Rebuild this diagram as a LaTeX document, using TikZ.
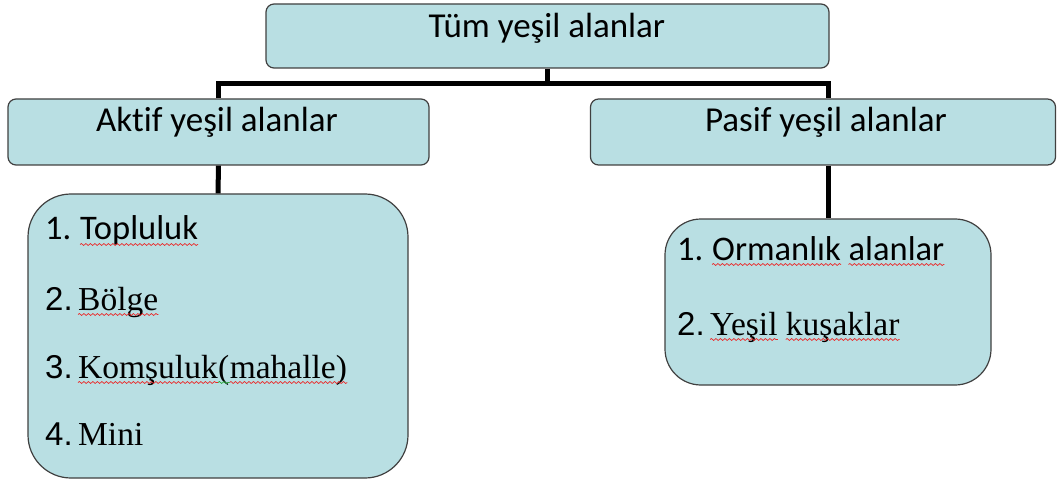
\documentclass[tikz,border=0pt]{standalone}
\usepackage{fontspec}
\usetikzlibrary{decorations.pathmorphing}
\setmainfont{Liberation Serif}
\newfontfamily\calfont[Ligatures={NoCommon,NoRare},Contextuals=NoAlternate]{Carlito}
\newfontfamily\numfont{Liberation Sans}
\definecolor{boxfill}{RGB}{185,223,227}
\definecolor{boxline}{RGB}{64,64,64}
\definecolor{spellred}{RGB}{235,40,40}
\definecolor{spellgreen}{RGB}{40,170,60}
\begin{document}
\begin{tikzpicture}[x=1pt,y=-1pt,
  headbox/.style={draw=boxline,line width=1.2pt,fill=boxfill,rounded corners=8pt,inner sep=0pt},
  listbox/.style={draw=boxline,line width=1.2pt,fill=boxfill,inner sep=0pt},
  headtext/.style={anchor=base,inner sep=0pt,font=\calfont\fontsize{35}{35}\selectfont},
  itemtext/.style={anchor=base west,inner sep=0pt,font=\fontsize{33.5}{33.5}\selectfont},
  caltext/.style={anchor=base west,inner sep=0pt,font=\calfont\fontsize{34.5}{34.5}\selectfont},
  numtext/.style={anchor=base west,inner sep=0pt,font=\numfont\fontsize{33}{33}\selectfont},
  link/.style={line width=5pt,black},
  wave/.style={draw=#1,line width=0.7pt,decorate,
    decoration={snake,amplitude=1pt,segment length=4.5pt}},
  wave/.default=spellred]
\useasboundingbox (0,0) rectangle (1057,481);

% boxes
\node[headbox,minimum width=563pt,minimum height=64pt] (top) at (547.5,36) {};
\node[headbox,minimum width=421pt,minimum height=66pt] (left) at (218.5,132) {};
\node[headbox,minimum width=465pt,minimum height=66pt] (right) at (823,132) {};
\node[listbox,rounded corners=43pt,minimum width=380pt,minimum height=284pt] (bl) at (218,336) {};
\node[listbox,rounded corners=36pt,minimum width=326pt,minimum height=166pt] (br) at (828,302) {};

% connectors
\coordinate (bus) at (547.5,84);
\draw[link] (top.south) -- (bus);
\draw[link] (left.north) |- (bus);
\draw[link] (bus) -| (br.north |- right.north);
\draw[link] (left.south) -- (bl.north);
\draw[link] (right.south -| br.north) -- (br.north);

% header texts
\node[headtext] (ttop) at (547,38) {Tüm yeşil alanlar};
\node[headtext] (tleft) at (217,132) {Aktif yeşil alanlar};
\node[headtext] (tright) at (826,132) {Pasif yeşil alanlar};

% list on the left
\node[caltext] (n1) at (45,240) {1.};
\node[caltext] (w1) at (80,240) {Topluluk};
\node[numtext] (n2) at (45,310) {2.};
\node[itemtext] (w2) at (78,310) {Bölge};
\node[numtext] (n3) at (45,378) {3.};
\node[itemtext] (w3) at (78,378) {Komşuluk};
\node[itemtext] (w3b) at (w3.base east) {(};
\node[itemtext] (w3c) at (w3b.base east) {mahalle)};
\node[numtext] (n4) at (45,445) {4.};
\node[itemtext] (w4) at (78,445) {Mini};

% list on the right
\node[caltext] (m1) at (677,260) {1.};
\node[caltext] (v1) at (712,260) {Ormanlık};
\node[caltext] (v1b) at ([xshift=7.5pt]v1.base east) {alanlar};
\node[numtext] (m2) at (677,335) {2.};
\node[itemtext] (v2) at (710,335) {Yeşil};
\node[itemtext] (v2b) at ([xshift=8pt]v2.base east) {kuşaklar};

% spell-check underlines
\foreach \w in {w1,w2,w3,w3c,v1,v1b,v2,v2b}
  \draw[wave] ([yshift=-4.5pt]\w.base west) -- ([yshift=-4.5pt]\w.base east);
\draw[wave=spellgreen] ([yshift=-4.5pt]w3b.base west) -- ([yshift=-4.5pt]w3b.base east);
\end{tikzpicture}
\end{document}
